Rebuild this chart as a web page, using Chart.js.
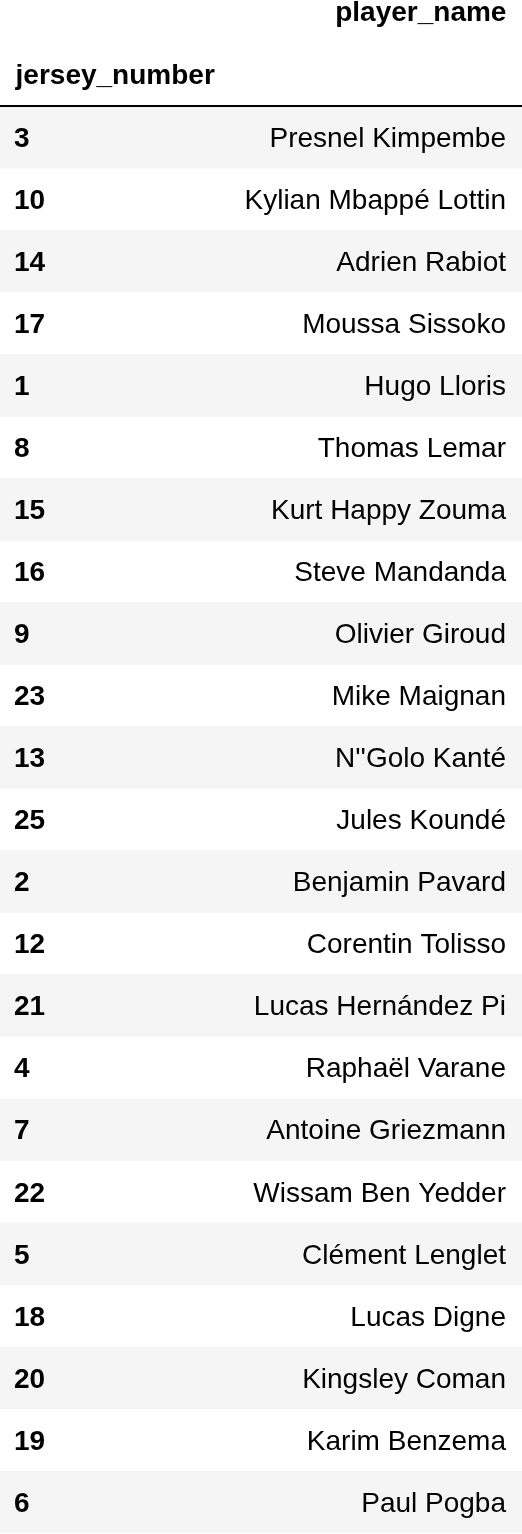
<!DOCTYPE html>
<html>
<head>
<meta charset="utf-8">
<script src="https://cdn.jsdelivr.net/npm/chart.js@4"></script>
<style>
  html, body { margin: 0; padding: 0; background: #fff; }
  #wrap { position: relative; width: 522px; height: 1534px; }
</style>
</head>
<body>
<div id="wrap"><canvas id="table"></canvas></div>
<script>
const jerseyNumbers = [3, 10, 14, 17, 1, 8, 15, 16, 9, 23, 13, 25, 2, 12, 21, 4, 7, 22, 5, 18, 20, 19, 6];
const playerNames = ['Presnel Kimpembe', 'Kylian Mbappé Lottin', 'Adrien Rabiot', 'Moussa Sissoko',
    'Hugo Lloris', 'Thomas Lemar', 'Kurt Happy Zouma', 'Steve Mandanda', 'Olivier Giroud',
    'Mike Maignan', "N''Golo Kanté", 'Jules Koundé', 'Benjamin Pavard', 'Corentin Tolisso',
    'Lucas Hernández Pi', 'Raphaël Varane', 'Antoine Griezmann', 'Wissam Ben Yedder',
    'Clément Lenglet', 'Lucas Digne', 'Kingsley Coman', 'Karim Benzema', 'Paul Pogba'];
const indexName = 'jersey_number';
const columnName = 'player_name';

const fontFamily = '"Liberation Sans", Arial, Helvetica, sans-serif';

// one full-width band per row, every other row shaded
let rowBands = jerseyNumbers.map(() => 1);

// axes only carry labels here, so they take no room of their own
function noRoom(scale) {
    scale.width = 0;
    scale.paddingTop = 0;
    scale.paddingBottom = 0;
}

new Chart(document.getElementById('table'), {
    type: 'bar',
    data: {
        labels: jerseyNumbers.map(String),
        datasets: [{
            data: rowBands,
            backgroundColor: (ctx) => ctx.dataIndex % 2 === 0 ? '#f5f5f5' : 'rgba(0,0,0,0)',
            borderWidth: 0,
            barPercentage: 1,
            categoryPercentage: 1
        }]
    },
    options: {
        indexAxis: 'y',
        responsive: true,
        maintainAspectRatio: false,
        animation: false,
        events: [],
        layout: { padding: { top: 0, left: 0, right: 0, bottom: 1 } },
        plugins: {
            legend: { display: false },
            tooltip: { enabled: false },
            title: {
                display: true,
                text: columnName + '\u00a0\u00a0',
                align: 'end',
                color: '#000',
                font: { family: fontFamily, size: 28, weight: 'bold', lineHeight: 0.72 },
                padding: { top: 3.5, bottom: 0 }
            },
            subtitle: {
                display: true,
                text: '\u00a0\u00a0' + indexName,
                align: 'start',
                color: '#000',
                font: { family: fontFamily, size: 28, weight: 'bold', lineHeight: 1 },
                padding: { top: 38.5, bottom: 16 }
            }
        },
        scales: {
            x: {
                position: 'top',
                min: 0,
                max: 1,
                ticks: { display: false },
                grid: { display: false, drawTicks: false },
                border: { display: true, color: '#000', width: 2, z: 1 }
            },
            y: {
                position: 'left',
                offset: true,
                grid: { display: false, drawTicks: false },
                border: { display: false },
                ticks: {
                    mirror: true,
                    padding: 14,
                    labelOffset: 2,
                    autoSkip: false,
                    z: 1,
                    color: '#000',
                    font: { family: fontFamily, size: 28, weight: 'bold' }
                },
                afterFit: noRoom
            },
            y2: {
                type: 'category',
                labels: playerNames,
                position: 'right',
                offset: true,
                grid: { display: false, drawTicks: false },
                border: { display: false },
                ticks: {
                    mirror: true,
                    padding: -16,
                    labelOffset: 2,
                    autoSkip: false,
                    z: 1,
                    color: '#000',
                    font: { family: fontFamily, size: 28 }
                },
                afterFit: noRoom
            }
        }
    }
});
</script>
</body>
</html>
